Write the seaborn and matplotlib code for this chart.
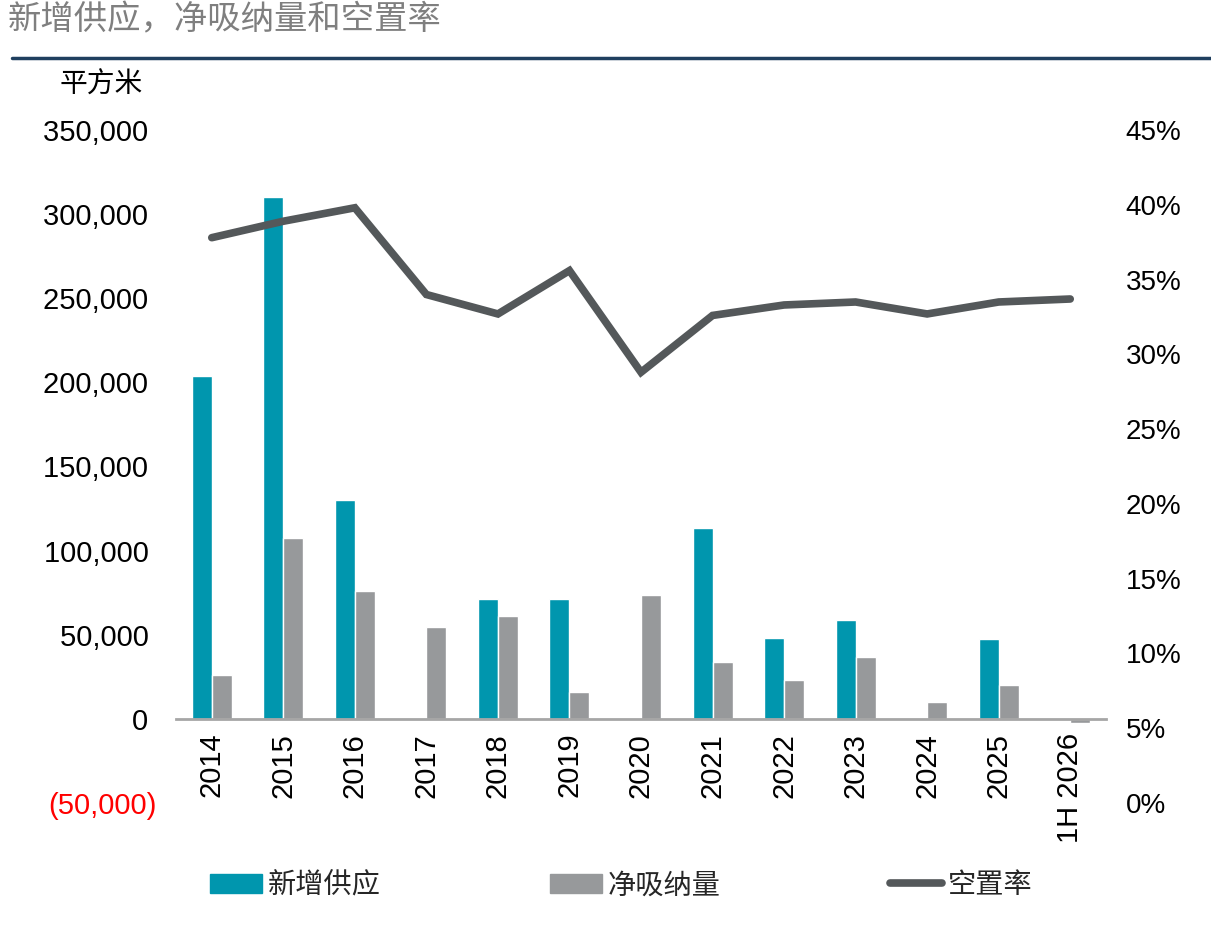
import pandas as pd
import matplotlib.pyplot as plt
import matplotlib.lines as mlines
import matplotlib.patches as mpatches
import seaborn as sns
import numpy as np

# =========================
# DADOS
# =========================
years = ["2014", "2015", "2016", "2017", "2018", "2019", "2020",
         "2021", "2022", "2023", "2024", "2025", "1H 2026"]
new_supply = [204000, 310000, 130000, 0, 71500, 71500, 0,
              113500, 48200, 59000, 0, 47600, 0]
net_absorption = [26200, 107700, 76200, 54800, 61300, 16100, 73800,
                  33900, 23200, 36900, 10100, 20200, -2400]
vacancy = [0.378, 0.389, 0.398, 0.340, 0.327, 0.356, 0.288,
           0.326, 0.333, 0.335, 0.327, 0.335, 0.337]

left_ticks = [-50000, 0, 50000, 100000, 150000, 200000, 250000, 300000, 350000]
right_ticks = [0, 0.05, 0.10, 0.15, 0.20, 0.25, 0.30, 0.35, 0.40, 0.45]

TEAL = "#0096ae"
GREY = "#97999b"
LINE = "#54585a"
FONT = ["Liberation Sans", "Noto Sans CJK SC", "DejaVu Sans"]


def plot_chart():
    sns.set_style("white")
    plt.rcParams["font.family"] = FONT

    df = pd.DataFrame({
        "年份": years * 2,
        "值": new_supply + net_absorption,
        "系列": ["新增供应"] * len(years) + ["净吸纳量"] * len(years),
    })

    fig, ax = plt.subplots(figsize=(12.11, 9.39), dpi=100)
    fig.subplots_adjust(left=176 / 1211, right=1106 / 1211,
                        top=1 - 130 / 939, bottom=1 - 803 / 939)

    sns.barplot(data=df, x="年份", y="值", hue="系列", order=years,
                palette=[TEAL, GREY], width=0.56, gap=0, ax=ax,
                saturation=1, legend=False)

    ax.set_ylim(-50000, 350000)
    ax.set_xlim(-0.5, len(years) - 0.5)
    ax.set_yticks(left_ticks)
    labels = [f"({abs(v):,})" if v < 0 else f"{v:,} " for v in left_ticks]
    ax.set_yticklabels(labels)
    for t, v in zip(ax.get_yticklabels(), left_ticks):
        t.set_color("#ff0000" if v < 0 else "black")
    ax.tick_params(axis="y", length=0, pad=14, labelsize=21)
    ax.tick_params(axis="x", length=0, pad=10, labelsize=21, labelrotation=90,
                   labelcolor="black")
    ax.set_xlabel("")
    ax.set_ylabel("")

    for s in ["top", "right", "left"]:
        ax.spines[s].set_visible(False)
    ax.spines["bottom"].set_position(("data", 0))
    ax.spines["bottom"].set_color("#a6a6a6")
    ax.spines["bottom"].set_linewidth(2)

    # Eixo secundário — taxa de vacância
    ax2 = ax.twinx()
    sns.lineplot(x=np.arange(len(years)), y=vacancy, color=LINE, lw=5.5,
                 ax=ax2, solid_capstyle="round", solid_joinstyle="miter")
    ax2.set_ylim(0, 0.45)
    ax2.set_yticks(right_ticks)
    ax2.set_yticklabels([f"{v:.0%}" for v in right_ticks])
    ax2.tick_params(axis="y", length=0, pad=14, labelsize=20, labelcolor="black")
    for s in ax2.spines.values():
        s.set_visible(False)

    # Título e linha
    fig.text(8 / 1211, 1 - 20 / 939, "新增供应，净吸纳量和空置率", fontsize=24,
             color="#7f7f7f", va="center", ha="left")
    fig.add_artist(mlines.Line2D([12 / 1211, 1], [1 - 58 / 939, 1 - 58 / 939],
                                 color="#1f3f5f", lw=2.5))
    fig.text(143 / 1211, 1 - 86 / 939, "平方米", fontsize=20, color="black",
             va="center", ha="right")

    # Legenda
    handles = [
        mpatches.Patch(color=TEAL, label="新增供应"),
        mpatches.Patch(color=GREY, label="净吸纳量"),
        mlines.Line2D([], [], color=LINE, lw=5.5, solid_capstyle="round", label="空置率"),
    ]
    fig.legend(handles=handles, loc="center left", ncol=3,
               bbox_to_anchor=(210 / 1211, 1 - 886 / 939), frameon=False,
               fontsize=20.3, handlelength=1.85, handletextpad=0.2,
               columnspacing=6.0, borderaxespad=0, borderpad=0)

    plt.savefig("out.png", dpi=100)
    plt.close()


if __name__ == "__main__":
    plot_chart()
